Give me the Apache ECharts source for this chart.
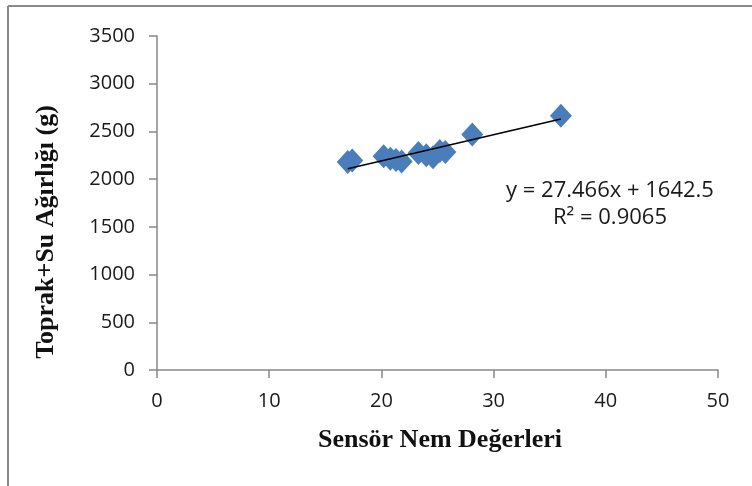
<!DOCTYPE html>
<html>
<head>
<meta charset="utf-8">
<script src="https://cdn.jsdelivr.net/npm/echarts@6/dist/echarts.min.js"></script>
<style>
  html, body { margin: 0; padding: 0; background: #fff; }
  #chart { width: 752px; height: 486px; }
</style>
</head>
<body>
<div id="chart"></div>
<script>
// Sensor moisture readings vs. soil + water weight (g)
const sensorValues = [17.0, 17.4, 20.2, 20.8, 21.3, 21.8, 23.3, 24.0, 24.6, 25.2, 25.7, 28.1, 36.0];
const weightValues = [2180, 2195, 2240, 2215, 2200, 2185, 2275, 2250, 2230, 2295, 2285, 2468, 2663];

// Linear trendline as stated on the chart
const slope = 27.466;
const intercept = 1642.5;
const rSquared = '0.9065';

const xTicks = [0, 10, 20, 30, 40, 50];
const yTicks = [0, 500, 1000, 1500, 2000, 2500, 3000, 3500];

const xTitle = 'Sensör Nem Değerleri';
const yTitle = 'Toprak+Su Ağırlığı (g)';

const points = sensorValues.map((x, i) => [x, weightValues[i]]);
const xMin = Math.min(...sensorValues);
const xMax = Math.max(...sensorValues);
const trend = [[xMin, slope * xMin + intercept], [xMax, slope * xMax + intercept]];

const chart = echarts.init(document.getElementById('chart'));
const tickFont = { fontFamily: 'Open Sans, Noto Sans, sans-serif', fontSize: 20, color: '#1a1a1a' };
const titleFont = 'bold 26px "Liberation Serif", serif';

chart.setOption({
  animation: false,
  backgroundColor: '#fff',
  grid: { left: 157, right: 34, top: 36, bottom: 116 },
  xAxis: {
    type: 'value',
    min: xTicks[0], max: xTicks[xTicks.length - 1], interval: 10,
    splitLine: { show: false },
    axisLine: { show: true, onZero: false, lineStyle: { color: '#888', width: 1.5 } },
    axisTick: { show: true, length: 8, lineStyle: { color: '#888', width: 1.5 } },
    axisLabel: Object.assign({ margin: 21, formatter: v => String(v) }, tickFont)
  },
  yAxis: {
    type: 'value',
    min: yTicks[0], max: yTicks[yTicks.length - 1], interval: 500,
    splitLine: { show: false },
    axisLine: { show: true, lineStyle: { color: '#888', width: 1.5 } },
    axisTick: { show: true, length: 8, lineStyle: { color: '#888', width: 1.5 } },
    axisLabel: Object.assign({ margin: 22, formatter: v => String(v) }, tickFont)
  },
  series: [
    {
      type: 'scatter',
      data: points,
      symbol: 'diamond',
      symbolSize: [22, 24],
      itemStyle: { color: '#4a7ebb', opacity: 1 },
      z: 2
    },
    {
      type: 'line',
      data: trend,
      symbol: 'none',
      lineStyle: { color: '#000', width: 1.5 },
      z: 3
    }
  ],
  graphic: [
    { type: 'line', shape: { x1: 8, y1: 6, x2: 752, y2: 6 }, style: { stroke: '#8a8a8a', lineWidth: 2 } },
    { type: 'line', shape: { x1: 8, y1: 6, x2: 8, y2: 486 }, style: { stroke: '#8a8a8a', lineWidth: 2 } },
    {
      type: 'text',
      style: {
        x: 610, y: 177,
        text: 'y = ' + slope + 'x + ' + intercept + '\nR² = ' + rSquared,
        font: '22px "Open Sans", "Noto Sans", sans-serif',
        fill: '#1a1a1a', textAlign: 'center', lineHeight: 27
      }
    },
    {
      type: 'text',
      style: {
        x: 440, y: 440, text: xTitle, font: titleFont, fill: '#111',
        textAlign: 'center', textVerticalAlign: 'middle'
      }
    },
    {
      type: 'text',
      x: 46, y: 232, rotation: Math.PI / 2,
      style: {
        x: 0, y: 0, text: yTitle, font: titleFont, fill: '#111',
        textAlign: 'center', textVerticalAlign: 'middle'
      }
    }
  ]
});
</script>
</body>
</html>
